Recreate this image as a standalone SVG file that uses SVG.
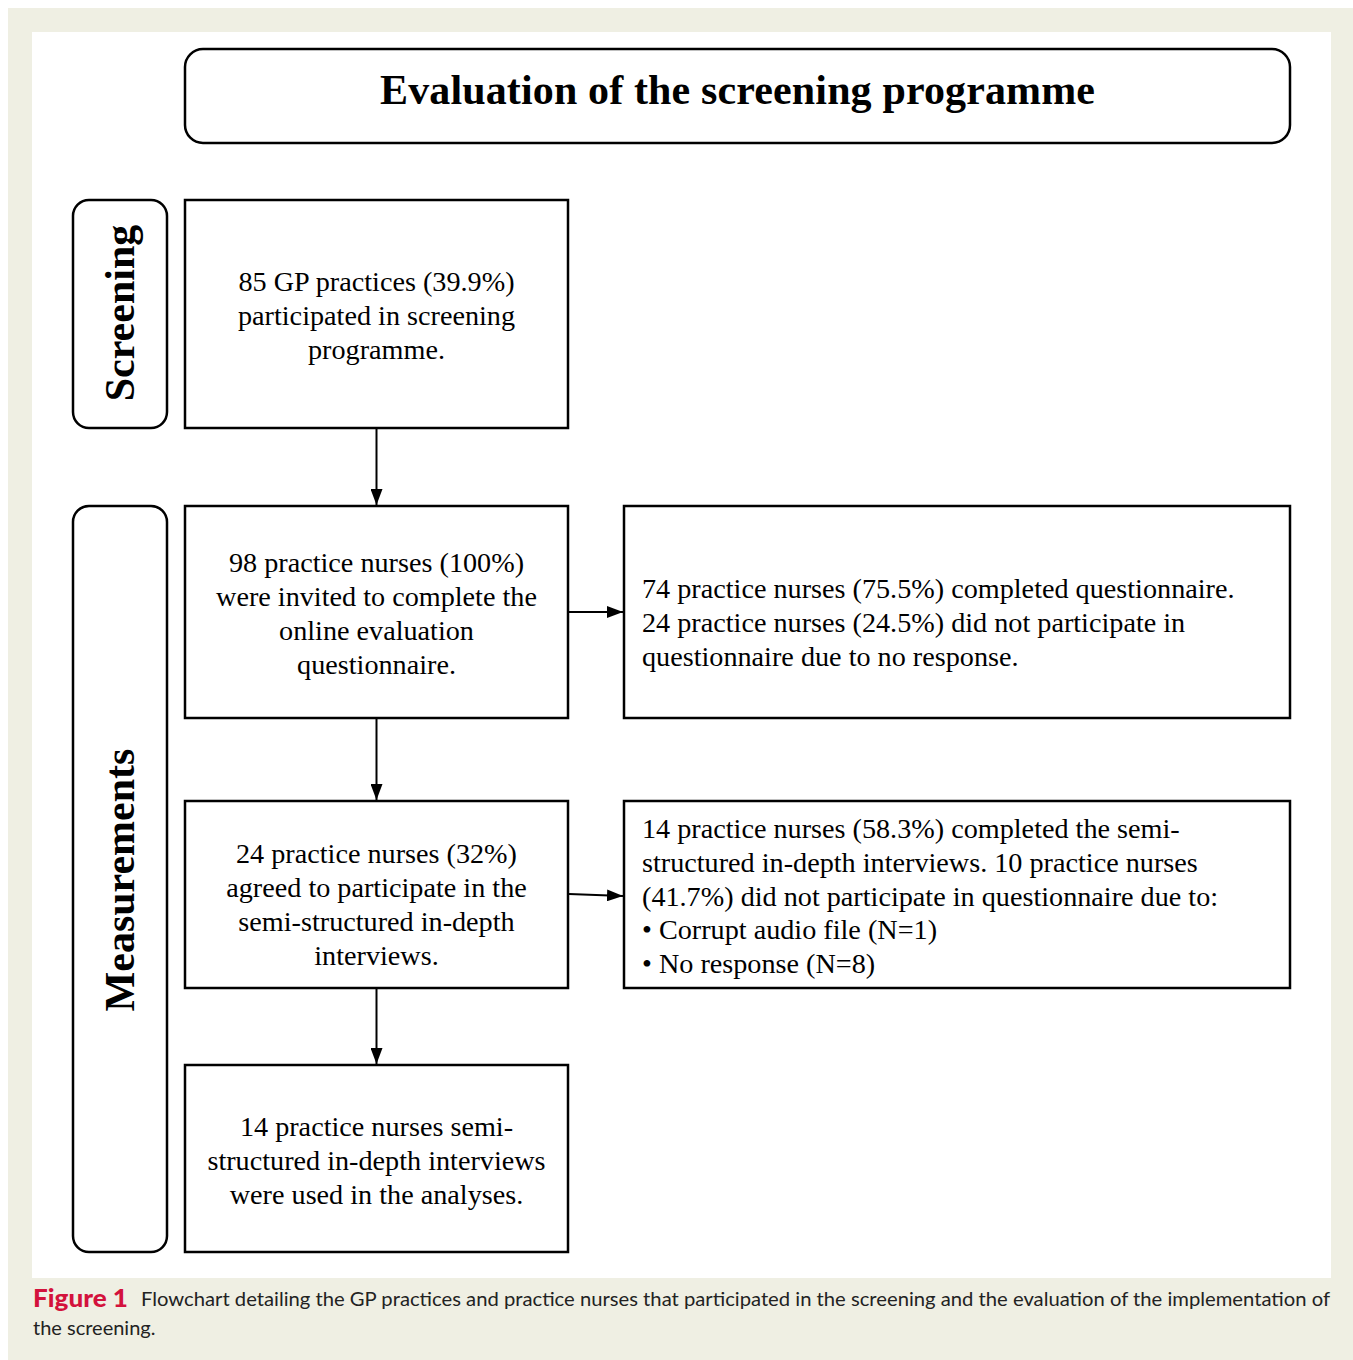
<svg xmlns="http://www.w3.org/2000/svg" width="1353" height="1360" viewBox="0 0 1353 1360">
<style>
.box{fill:#fff;stroke:#000;stroke-width:2.5}
.t{font-family:"Liberation Serif","Times New Roman",serif;font-size:28.2px;fill:#000}
.c{text-anchor:middle}
.h{font-family:"Liberation Serif","Times New Roman",serif;font-size:42px;font-weight:bold;fill:#000;text-anchor:middle}
.cap{font-family:Lato,"Open Sans",sans-serif;font-size:20px;fill:#222}
.fig{font-family:Lato,"Open Sans",sans-serif;font-size:24px;font-weight:900;fill:#D3123C}
.conn{stroke:#000;stroke-width:2;fill:none}
</style>
<defs>
<marker id="arr" viewBox="0 0 16 12" refX="16" refY="6" markerWidth="16" markerHeight="12" markerUnits="userSpaceOnUse" orient="auto">
<path d="M0,0 L16,6 L0,12 z" fill="#000"/>
</marker>
</defs>
<rect x="0" y="0" width="1353" height="1360" fill="#fff"/>
<rect x="8" y="8" width="1345" height="1352" fill="#EFEFE3"/>
<rect x="32" y="32" width="1299" height="1246" fill="#fff"/>

<g id="title">
<rect class="box" x="185" y="49" width="1105" height="94" rx="18"/>
<text class="h" x="737.5" y="104" textLength="715" lengthAdjust="spacing">Evaluation of the screening programme</text>
</g>

<g id="screening-label">
<rect class="box" x="73" y="200" width="94" height="228" rx="16"/>
<text class="h" transform="translate(134,313) rotate(-90)">Screening</text>
</g>

<g id="measurements-label">
<rect class="box" x="73" y="506" width="94" height="746" rx="16"/>
<text class="h" transform="translate(134,880) rotate(-90)">Measurements</text>
</g>

<g id="n1">
<rect class="box" x="185" y="200" width="383" height="228"/>
<text class="t c" x="376.5" y="291">85 GP practices (39.9%)</text>
<text class="t c" x="376.5" y="325">participated in screening</text>
<text class="t c" x="376.5" y="359">programme.</text>
</g>

<g id="n2">
<rect class="box" x="185" y="506" width="383" height="212"/>
<text class="t c" x="376.5" y="572">98 practice nurses (100%)</text>
<text class="t c" x="376.5" y="606">were invited to complete the</text>
<text class="t c" x="376.5" y="640">online evaluation</text>
<text class="t c" x="376.5" y="674">questionnaire.</text>
</g>

<g id="n3">
<rect class="box" x="185" y="801" width="383" height="187"/>
<text class="t c" x="376.5" y="863">24 practice nurses (32%)</text>
<text class="t c" x="376.5" y="897">agreed to participate in the</text>
<text class="t c" x="376.5" y="931">semi-structured in-depth</text>
<text class="t c" x="376.5" y="965">interviews.</text>
</g>

<g id="n4">
<rect class="box" x="185" y="1065" width="383" height="187"/>
<text class="t c" x="376.5" y="1136">14 practice nurses semi-</text>
<text class="t c" x="376.5" y="1170">structured in-depth interviews</text>
<text class="t c" x="376.5" y="1204">were used in the analyses.</text>
</g>

<g id="nA">
<rect class="box" x="624" y="506" width="666" height="212"/>
<text class="t" x="642" y="598">74 practice nurses (75.5%) completed questionnaire.</text>
<text class="t" x="642" y="632">24 practice nurses (24.5%) did not participate in</text>
<text class="t" x="642" y="666">questionnaire due to no response.</text>
</g>

<g id="nB">
<rect class="box" x="624" y="801" width="666" height="187"/>
<text class="t" x="642" y="838">14 practice nurses (58.3%) completed the semi-</text>
<text class="t" x="642" y="872">structured in-depth interviews. 10 practice nurses</text>
<text class="t" x="642" y="906">(41.7%) did not participate in questionnaire due to:</text>
<text class="t" x="642" y="939">• Corrupt audio file (N=1)</text>
<text class="t" x="642" y="973">• No response (N=8)</text>
</g>

<g id="connectors">
<line class="conn" x1="376.5" y1="429" x2="376.5" y2="505" marker-end="url(#arr)"/>
<line class="conn" x1="376.5" y1="719" x2="376.5" y2="800" marker-end="url(#arr)"/>
<line class="conn" x1="376.5" y1="989" x2="376.5" y2="1064" marker-end="url(#arr)"/>
<line class="conn" x1="569" y1="612" x2="623" y2="612" marker-end="url(#arr)"/>
<line class="conn" x1="569" y1="894" x2="623" y2="896" marker-end="url(#arr)"/>
</g>

<g id="caption">
<text class="fig" x="33" y="1307" textLength="95" lengthAdjust="spacingAndGlyphs">Figure 1</text>
<text class="cap" x="141" y="1306" textLength="1189" lengthAdjust="spacingAndGlyphs">Flowchart detailing the GP practices and practice nurses that participated in the screening and the evaluation of the implementation of</text>
<text class="cap" x="33" y="1335">the screening.</text>
</g>
</svg>
